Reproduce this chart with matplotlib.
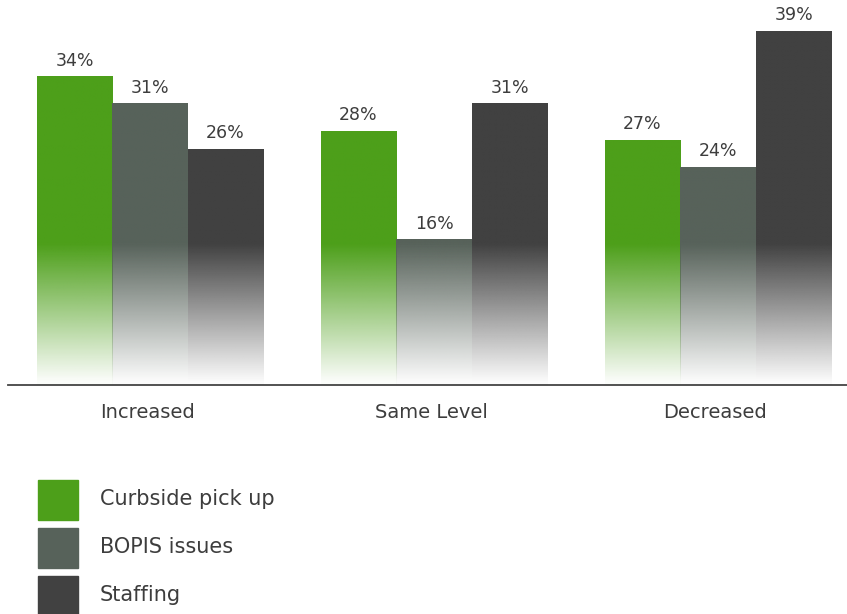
import numpy as np
import matplotlib
matplotlib.use("Agg")
import matplotlib.pyplot as plt
from matplotlib.colors import to_rgb
from matplotlib.patches import Rectangle

categories = ["Increased", "Same Level", "Decreased"]
series = ["Curbside pick up", "BOPIS issues", "Staffing"]
curbside = [34, 28, 27]
bopis = [31, 16, 24]
staffing = [26, 31, 39]
colors = ["#4d9f1a", "#57625a", "#414141"]
TEXT = "#3d3d3d"
FADE = 15.5  # bars fade to white below this value

plt.rcParams["font.family"] = ["DejaVu Sans"]

fig = plt.figure(figsize=(8.47, 6.14), dpi=100)
W, H = 847, 614
ax = fig.add_axes([8 / W, 229 / H, (847 - 8) / W, 381 / H])

x = np.arange(len(categories))
bw = 0.266
for i, (vals, col) in enumerate(zip([curbside, bopis, staffing], colors)):
    rgb = np.array(to_rgb(col))
    for xi, v in zip(x, vals):
        xc = xi + (i - 1) * bw
        yy = np.linspace(0, v, 300)
        alpha = np.clip(yy / FADE, 0.02, 1)
        img = np.zeros((300, 1, 4))
        img[:, 0, :3] = rgb
        img[:, 0, 3] = alpha
        ax.imshow(img, extent=[xc - bw / 2, xc + bw / 2, 0, v], origin="lower",
                  aspect="auto", interpolation="bilinear", zorder=2)
        ax.annotate(f"{v}%", (xc, v), xytext=(0, 5), textcoords="offset points",
                    ha="center", va="bottom", fontsize=12.5, color=TEXT)

ax.set_xlim(-0.5, 2.454)
ax.set_ylim(0, 42)
for s in ["top", "right", "left"]:
    ax.spines[s].set_visible(False)
ax.spines["bottom"].set_color("#444444")
ax.spines["bottom"].set_linewidth(1.3)
ax.set_yticks([])
ax.set_xticks(x - 0.01)
ax.set_xticklabels(categories, fontsize=14, color=TEXT)
ax.tick_params(axis="x", length=0, pad=13)

# legend
for k, (name, col) in enumerate(zip(series, colors)):
    top = 480 + k * 48
    fig.add_artist(Rectangle((38 / W, 1 - (top + 40) / H), 40 / W, 40 / H,
                             transform=fig.transFigure, color=col))
    fig.text(100 / W, 1 - (top + 19) / H, name, fontsize=15, color=TEXT,
             va="center", ha="left")

plt.savefig("out.png", dpi=100)
